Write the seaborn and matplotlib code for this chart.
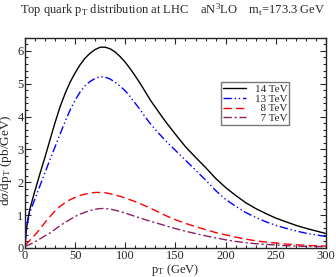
import numpy as np
import pandas as pd
import seaborn as sns
import matplotlib
matplotlib.use("Agg")
import matplotlib.pyplot as plt
from matplotlib.ticker import MultipleLocator

# ---- data ----
pt_14 = [0, 1, 2, 3, 5, 7.5, 10, 15, 20, 25, 30, 35, 40, 45, 50, 55, 60, 65, 70, 75, 80, 85, 90, 95,
         100, 105, 110, 115, 120, 125, 130, 140, 150, 160, 170, 180, 190, 200, 210, 220, 230, 240,
         250, 260, 270, 280, 290, 300]
ds_14 = [0.1, 0.45, 0.7, 0.9, 1.2, 1.48, 1.75, 2.27, 2.77, 3.3, 3.82, 4.3, 4.7, 5.05, 5.33, 5.58,
         5.78, 5.93, 6.04, 6.11, 6.11, 6.06, 5.96, 5.82, 5.65, 5.45, 5.23, 5.0, 4.75, 4.5, 4.28,
         3.85, 3.46, 3.08, 2.76, 2.45, 2.12, 1.84, 1.6, 1.38, 1.2, 1.05, 0.91, 0.8, 0.69, 0.6,
         0.52, 0.44]

pt_13 = [0, 1, 2, 3, 5, 7.5, 10, 15, 20, 25, 30, 35, 40, 45, 50, 55, 60, 65, 70, 75, 80, 85, 90, 95,
         100, 105, 110, 115, 120, 125, 130, 140, 150, 160, 170, 180, 190, 200, 210, 220, 230, 240,
         250, 260, 270, 280, 290, 300]
ds_13 = [0.1, 0.4, 0.65, 0.85, 1.1, 1.3, 1.5, 1.9, 2.3, 2.7, 3.08, 3.47, 3.85, 4.2, 4.5, 4.75,
         4.94, 5.07, 5.16, 5.21, 5.2, 5.14, 5.04, 4.92, 4.78, 4.6, 4.4, 4.2, 3.98, 3.78, 3.6,
         3.27, 2.97, 2.67, 2.37, 2.07, 1.75, 1.48, 1.27, 1.08, 0.93, 0.8, 0.69, 0.6, 0.52, 0.45,
         0.4, 0.35]

pt_8 = [0, 2, 5, 10, 15, 20, 25, 30, 35, 40, 45, 50, 55, 60, 65, 70, 75, 80, 85, 90, 95, 100,
        110, 120, 130, 140, 150, 160, 170, 180, 190, 200, 210, 220, 230, 240, 250, 260, 270,
        280, 290, 300]
ds_8 = [0.08, 0.14, 0.24, 0.4, 0.58, 0.78, 0.96, 1.13, 1.27, 1.38, 1.47, 1.54, 1.6, 1.64, 1.67,
        1.69, 1.69, 1.68, 1.65, 1.61, 1.57, 1.52, 1.41, 1.28, 1.14, 0.99, 0.86, 0.75, 0.65,
        0.56, 0.47, 0.4, 0.33, 0.27, 0.22, 0.18, 0.15, 0.12, 0.1, 0.08, 0.07, 0.06]

pt_7 = [0, 5, 10, 15, 20, 25, 30, 35, 40, 45, 50, 55, 60, 65, 70, 75, 80, 85, 90, 95, 100,
        110, 120, 130, 140, 150, 160, 170, 180, 190, 200, 210, 220, 230, 240, 250, 260, 270,
        280, 290, 300]
ds_7 = [0.05, 0.11, 0.19, 0.28, 0.37, 0.46, 0.57, 0.68, 0.78, 0.87, 0.96, 1.03, 1.09, 1.14, 1.18,
        1.2, 1.2, 1.18, 1.15, 1.11, 1.06, 0.96, 0.86, 0.77, 0.68, 0.59, 0.51, 0.44, 0.37, 0.31,
        0.25, 0.2, 0.16, 0.13, 0.11, 0.09, 0.07, 0.06, 0.05, 0.045, 0.04]

labels = ["14 TeV", "13 TeV", "  8 TeV", "  7 TeV"]
title = r"Top quark p$_\mathrm{T}$ distribution at LHC    aN$^3$LO    m$_\mathrm{t}$=173.3 GeV"

sns.set_style("ticks")
plt.rcParams["font.family"] = ["Liberation Serif", "DejaVu Serif"]
plt.rcParams["mathtext.fontset"] = "custom"
plt.rcParams["mathtext.rm"] = "Liberation Serif"
plt.rcParams["mathtext.it"] = "Liberation Serif:italic"

fig = plt.figure(figsize=(3.36, 2.77), dpi=100)
ax = fig.add_axes([0.0744, 0.1047, 0.8956, 0.7593])

series = [
    (pt_14, ds_14, "black", "-"),
    (pt_13, ds_13, "#0000ff", (0, (6, 2, 1, 2, 1, 2))),
    (pt_8, ds_8, "#ff0000", (0, (6, 3))),
    (pt_7, ds_7, "#8b1f66", (0, (6, 2, 1.5, 2))),
]
for (x, y, c, ls), lab in zip(series, labels):
    df = pd.DataFrame({"pT": x, "ds": y})
    sns.lineplot(data=df, x="pT", y="ds", ax=ax, color=c, linestyle=ls,
                 linewidth=1.0, label=lab)

ax.set_xlim(0, 300)
ax.set_ylim(0, 6.4)
ax.xaxis.set_major_locator(MultipleLocator(50))
ax.xaxis.set_minor_locator(MultipleLocator(10))
ax.yaxis.set_major_locator(MultipleLocator(1))
ax.yaxis.set_minor_locator(MultipleLocator(0.2))
ax.tick_params(which="both", direction="in", top=True, right=True, width=0.8)
ax.tick_params(axis="x", labelsize=9, pad=1.5)
ax.tick_params(axis="y", labelsize=9, pad=1)
ax.tick_params(which="major", length=4)
ax.tick_params(which="minor", length=2)
for s in ax.spines.values():
    s.set_linewidth(1.0)

ax.set_xlabel(r"p$_\mathrm{T}$ (GeV)", fontsize=9)
ax.xaxis.set_label_coords(0.5, -0.066)
ax.set_ylabel(r"d$\sigma$/dp$_\mathrm{T}$ (pb/GeV)", fontsize=9.5)
ax.yaxis.set_label_coords(-0.035, 0.42)
fig.text(0.515, 0.962, title, ha="center", va="center", fontsize=9)

leg = ax.legend(loc="upper left", bbox_to_anchor=(0.652, 0.79), fontsize=8,
                frameon=True, fancybox=False, handlelength=2.0, handletextpad=0.8,
                borderpad=0.2, labelspacing=0.0, borderaxespad=0)
leg.get_frame().set_edgecolor("#555555")
leg.get_frame().set_linewidth(1.0)

fig.savefig("out.png", dpi=100)
